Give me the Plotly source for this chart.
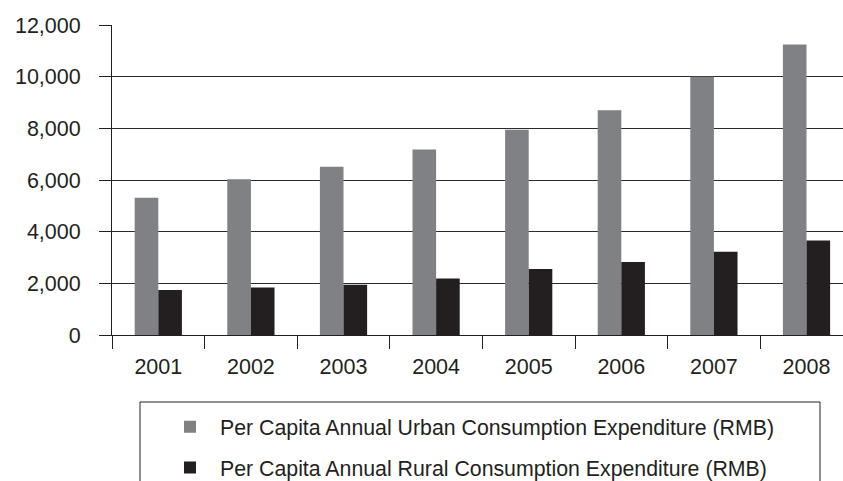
import plotly.graph_objects as go

years = ["2001", "2002", "2003", "2004", "2005", "2006", "2007", "2008"]
urban = [5309, 6030, 6511, 7182, 7943, 8697, 9997, 11243]
rural = [1741, 1834, 1943, 2185, 2555, 2829, 3224, 3661]
names = ["Per Capita Annual Urban Consumption Expenditure (RMB)",
         "Per Capita Annual Rural Consumption Expenditure (RMB)"]
colors = ["#808184", "#231f20"]

W, H = 843, 481
ML, MR, MT, MB = 112, 0, 25, 146
pw, ph = W - ML - MR, H - MT - MB

def px_x(x):
    return (x - ML) / pw

def px_y(y):
    return (H - MB - y) / ph

fig = go.Figure()
for vals, nm, c, g in zip([urban, rural], names, colors, ["u", "r"]):
    fig.add_trace(go.Bar(x=years, y=vals, name=nm, marker=dict(color=c, line=dict(width=0)),
                         legendgroup=g))

dark = "#231f20"
font = "Liberation Sans, Arial, sans-serif"

fig.update_layout(
    width=W, height=H,
    margin=dict(l=ML, r=MR, t=MT, b=MB, autoexpand=False),
    paper_bgcolor="white", plot_bgcolor="white",
    barmode="group", bargap=0.49, bargroupgap=0,
    font=dict(family=font, size=21, color=dark),
    showlegend=True,
    legend=dict(x=px_x(160), y=px_y(406.5), xanchor="left", yanchor="top",
                bgcolor="rgba(0,0,0,0)", borderwidth=0,
                font=dict(size=21.3, color=dark), tracegroupgap=10, itemwidth=50),
    xaxis=dict(type="category", range=[-0.5, 7.394], tickson="boundaries",
               ticks="outside", ticklen=13, tickcolor=dark, tickwidth=1,
               showline=True, linecolor=dark, linewidth=1, showgrid=False,
               automargin=False, ticklabelstandoff=12,
               tickfont=dict(size=21.5, color=dark)),
    yaxis=dict(range=[0, 12000], dtick=2000, tickformat=",", ticks="outside",
               ticklen=12, tickcolor=dark, tickwidth=1, showline=True,
               linecolor=dark, linewidth=1, showgrid=True, gridcolor="#2b2b2b",
               gridwidth=1, zeroline=False, ticklabelstandoff=14, automargin=False,
               tickfont=dict(size=21.5, color=dark)),
    shapes=[dict(type="rect", xref="paper", yref="paper",
                 x0=px_x(140), x1=px_x(820), y0=px_y(402), y1=px_y(520),
                 line=dict(color=dark, width=1), fillcolor="rgba(0,0,0,0)")],
)

fig.write_html("out.html", config={"displayModeBar": False},
               post_script="document.body.style.margin='0';document.body.style.overflow='hidden';")
